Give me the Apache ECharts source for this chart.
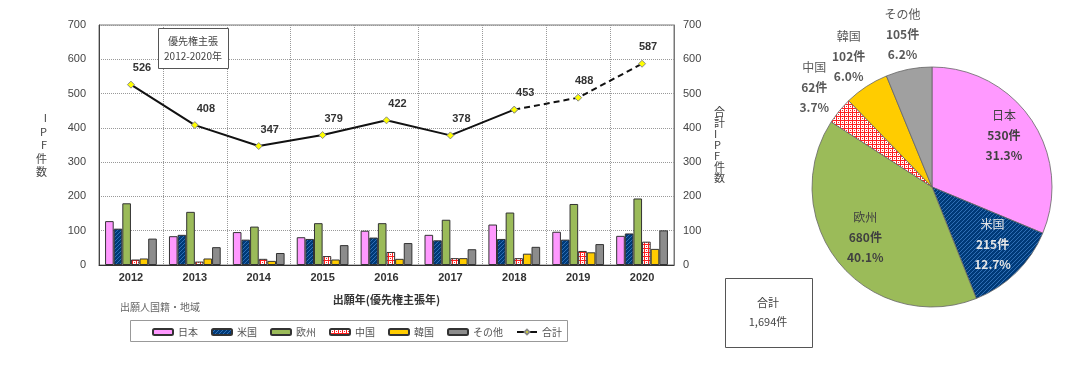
<!DOCTYPE html>
<html><head><meta charset="utf-8">
<script src="https://cdn.jsdelivr.net/npm/echarts@6/dist/echarts.min.js"></script>
<style>html,body{margin:0;padding:0;background:#fff}#c{width:1080px;height:381px}</style>
</head><body><div id="c"></div>
<script>
// ---- data ----
const years = ['2012','2013','2014','2015','2016','2017','2018','2019','2020'];
const japan  = [128, 84, 96, 81, 100, 88, 118, 97, 85];
const usa    = [106, 88, 74, 76, 80, 72, 76, 74, 92];
const europe = [180, 155, 112, 122, 122, 132, 153, 178, 194];
const china  = [16, 10, 18, 26, 38, 20, 20, 41, 68];
const korea  = [19, 19, 12, 16, 18, 20, 33, 37, 47];
const other  = [77, 52, 35, 58, 64, 46, 53, 61, 101];
const total  = [526, 408, 347, 379, 422, 378, 453, 488, 587];
const dashFromIndex = 6; // 2018 onward drawn dashed
const seriesNames = ['日本','米国','欧州','中国','韓国','その他','合計'];
const yTicks = [0,100,200,300,400,500,600,700];
const pieNames  = ['日本','米国','欧州','中国','韓国','その他'];
const pieValues = [530, 215, 680, 62, 102, 105];
const pieTotalLabel = '1,694件';

// ---- patterns ----
function makePattern(draw, w, h){
  const c = document.createElement('canvas'); c.width = w; c.height = h;
  draw(c.getContext('2d'));
  return {image: c, repeat: 'repeat'};
}
const bluePat = makePattern(function(g){
  g.fillStyle = '#003a78'; g.fillRect(0,0,4,4);
  g.fillStyle = '#2f6fb5';
  g.fillRect(0,3,1,1); g.fillRect(1,2,1,1); g.fillRect(2,1,1,1); g.fillRect(3,0,1,1);
}, 4, 4);
const redPat = makePattern(function(g){
  g.fillStyle = '#ffffff'; g.fillRect(0,0,4,4);
  g.fillStyle = '#ff2020';
  g.fillRect(0,0,4,1); g.fillRect(0,0,1,4); g.fillRect(2,2,1,1);
}, 4, 4);

const colors = ['#ff99ff', bluePat, '#9bbb59', redPat, '#ffcc00', '#8c8c8c'];
const pieColors = ['#ff99ff', bluePat, '#9bbb59', redPat, '#ffcc00', '#a0a0a0'];

const FONT = "'Liberation Sans','Noto Sans CJK JP',sans-serif";
const JFONT = "'Noto Sans CJK JP',sans-serif";
const PIE_CX = 932, PIE_CY = 187, PIE_R = 120;
const pieSum = pieValues.reduce((a,b)=>a+b,0);

const barData = [japan, usa, europe, china, korea, other];
const barSeries = barData.map((d,i)=>({
  name: seriesNames[i], type: 'bar', data: d,
  barGap: '0%', barCategoryGap: '19%',
  itemStyle: {color: colors[i], borderColor: '#333', borderWidth: 1},
  emphasis: {disabled: true}, z: 2
}));

const solid = total.map((v,i)=> i <= dashFromIndex ? v : null);
const dashed = total.map((v,i)=> i >= dashFromIndex ? v : null);
const lineCommon = {
  type: 'line', yAxisIndex: 1, symbol: 'diamond', symbolSize: 7,
  itemStyle: {color: '#ffff00', borderColor: '#888', borderWidth: 1},
  emphasis: {disabled: true}, z: 5
};

const option = {
  animation: false,
  textStyle: {fontFamily: FONT},
  grid: {left: 99, right: 406, top: 25, bottom: 116, show: true, borderColor: '#777', borderWidth: 1, containLabel: false},
  legend: {
    data: seriesNames, left: 147, top: 322, itemWidth: 20, itemHeight: 6, itemGap: 13,
    textStyle: {fontSize: 10, color: '#555', fontFamily: JFONT}, selectedMode: false
  },
  xAxis: {
    type: 'category', data: years,
    axisLine: {lineStyle: {color: '#333'}}, axisTick: {show: false},
    axisLabel: {fontSize: 11, fontWeight: 'bold', color: '#333', margin: 7},
    splitLine: {show: true, lineStyle: {color: '#999', type: [1,1]}},
    name: '出願年(優先権主張年)', nameLocation: 'middle', nameGap: 29,
    nameTextStyle: {fontSize: 11, fontWeight: 'bold', color: '#333', fontFamily: JFONT}
  },
  yAxis: [{
    type: 'value', min: 0, max: 700, interval: 100,
    axisLine: {show: true, lineStyle: {color: '#444'}}, axisTick: {show: false},
    axisLabel: {fontSize: 11, color: '#444', margin: 13},
    splitLine: {show: true, lineStyle: {color: '#999', type: [1,1]}},
    name: 'I\nP\nF\n件\n数', nameLocation: 'middle', nameGap: 52, nameRotate: 0,
    nameTextStyle: {fontSize: 11, color: '#444', lineHeight: 13.5, padding: [24,0,0,0], fontFamily: JFONT}
  },{
    type: 'value', min: 0, max: 700, interval: 100, position: 'right',
    axisLine: {show: true, lineStyle: {color: '#777'}}, axisTick: {show: false},
    axisLabel: {fontSize: 11, color: '#444', margin: 9},
    splitLine: {show: false},
    name: '合\n計\nI\nP\nF\n件\n数', nameLocation: 'middle', nameGap: 40, nameRotate: 0,
    nameTextStyle: {fontSize: 11, color: '#444', lineHeight: 11, fontFamily: JFONT}
  }],
  series: barSeries.concat([
    Object.assign({}, lineCommon, {
      name: '合計', data: solid, lineStyle: {color: '#111', width: 2},
      label: {show: true, position: 'top', offset: [11, -2], fontSize: 11, fontWeight: 'bold', color: '#333'}
    }),
    Object.assign({}, lineCommon, {
      name: '合計_d', data: dashed, lineStyle: {color: '#111', width: 2, type: [6,4]},
      label: {show: true, position: 'top', offset: [6, -2], fontSize: 11, fontWeight: 'bold', color: '#333',
        formatter: p => p.dataIndex > dashFromIndex ? String(p.value) : ''}
    }),
    {
      type: 'pie', center: [PIE_CX, PIE_CY], radius: [0, PIE_R], startAngle: 90, clockwise: true,
      percentPrecision: 1, silent: true, animation: false,
      data: pieNames.map((n,i)=>({name: n, value: pieValues[i], itemStyle: {color: pieColors[i]}})),
      itemStyle: {borderColor: '#666', borderWidth: 0.8},
      label: {
        show: true, position: 'inside', fontFamily: JFONT,
        formatter: p => '{n|' + p.name + '}\n{v|' + p.value + '件}\n{v|' + (p.value / pieSum * 100).toFixed(1) + '%}',
        color: '#404040',
        rich: {
          n: {fontSize: 12, lineHeight: 20, fontFamily: JFONT},
          v: {fontSize: 12, lineHeight: 20, fontWeight: 'bold', fontFamily: JFONT}
        }
      },
      labelLine: {show: false},
      labelLayout: function(p){
        const i = p.dataIndex;
        let before = 0; for (let k = 0; k < i; k++) before += pieValues[k];
        const mid = (before + pieValues[i]/2) / pieSum * 2 * Math.PI;
        const r = i < 3 ? 0.72 * PIE_R : 1.27 * PIE_R;
        return {x: PIE_CX + r*Math.sin(mid), y: PIE_CY - r*Math.cos(mid) - (i < 3 ? 4 : 3), align: 'center', verticalAlign: 'middle'};
      },
      z: 3
    }
  ]),
  graphic: [
    {type: 'rect', left: 158, top: 28, shape: {width: 70, height: 40}, style: {fill: '#fff', stroke: '#555', lineWidth: 1}, z: 10},
    {type: 'text', x: 193, y: 41, style: {text: '優先権主張', fontSize: 10, fill: '#444', align: 'center', verticalAlign: 'middle', fontFamily: JFONT}, z: 11},
    {type: 'text', x: 193, y: 56, style: {text: '2012-2020年', fontSize: 10, fill: '#444', align: 'center', verticalAlign: 'middle', fontFamily: JFONT}, z: 11},
    {type: 'text', x: 120, y: 307, style: {text: '出願人国籍・地域', fontSize: 10, fill: '#666', align: 'left', verticalAlign: 'middle', fontFamily: JFONT}},
    {type: 'rect', left: 128, top: 318, shape: {width: 437, height: 21}, style: {fill: 'none', stroke: '#999', lineWidth: 1}},
    {type: 'rect', left: 725, top: 278, shape: {width: 87, height: 69}, style: {fill: '#fff', stroke: '#555', lineWidth: 1}},
    {type: 'text', x: 768, y: 303, style: {text: '合計', fontSize: 11, fill: '#444', align: 'center', verticalAlign: 'middle', fontFamily: JFONT}},
    {type: 'text', x: 768, y: 322, style: {text: pieTotalLabel, fontSize: 11, fill: '#444', align: 'center', verticalAlign: 'middle', fontFamily: JFONT}}
  ]
};
// per-item label colours
option.series[option.series.length-1].data[1].label = {color: '#e6e6e6'};
[3,4,5].forEach(i => option.series[option.series.length-1].data[i].label = {color: '#595959'});

const chart = echarts.init(document.getElementById('c'), null, {renderer: 'canvas'});
chart.setOption(option);
</script>
</body></html>
